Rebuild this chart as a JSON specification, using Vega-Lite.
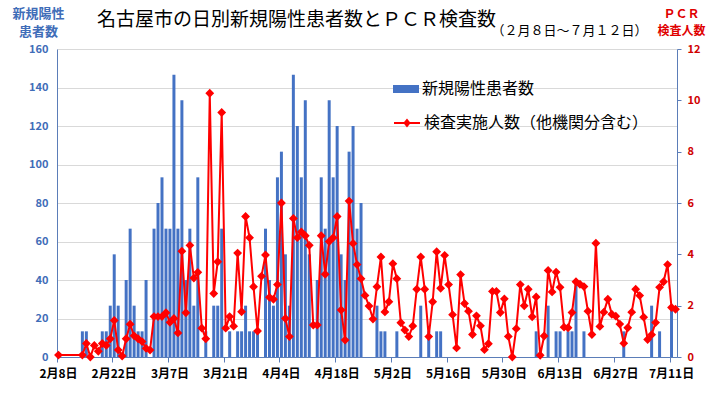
{
  "$schema": "https://vega.github.io/schema/vega-lite/v6.json",
  "width": 620,
  "height": 308,
  "autosize": {"type": "none"},
  "padding": {"left": 57, "top": 49, "right": 42, "bottom": 39},
  "background": "white",
  "title": {"text": "名古屋市の日別新規陽性患者数とＰＣＲ検査数", "anchor": "start", "frame": "group", "dx": 40, "dy": 27, "fontSize": 19, "fontWeight": "normal", "font": "Noto Sans CJK JP", "color": "black"},
  "data": {"values": [
    {"date":"2020-02-08","cases":0,"pcr":1},
    {"date":"2020-02-09","cases":0,"pcr":null},
    {"date":"2020-02-10","cases":0,"pcr":null},
    {"date":"2020-02-11","cases":0,"pcr":null},
    {"date":"2020-02-12","cases":0,"pcr":null},
    {"date":"2020-02-13","cases":0,"pcr":null},
    {"date":"2020-02-14","cases":1,"pcr":1},
    {"date":"2020-02-15","cases":1,"pcr":7},
    {"date":"2020-02-16","cases":0,"pcr":0},
    {"date":"2020-02-17","cases":0,"pcr":6},
    {"date":"2020-02-18","cases":0,"pcr":3},
    {"date":"2020-02-19","cases":1,"pcr":7},
    {"date":"2020-02-20","cases":1,"pcr":6},
    {"date":"2020-02-21","cases":2,"pcr":9.5},
    {"date":"2020-02-22","cases":4,"pcr":19},
    {"date":"2020-02-23","cases":2,"pcr":3.7},
    {"date":"2020-02-24","cases":0,"pcr":0.5},
    {"date":"2020-02-25","cases":3,"pcr":9.5},
    {"date":"2020-02-26","cases":5,"pcr":17},
    {"date":"2020-02-27","cases":2,"pcr":11},
    {"date":"2020-02-28","cases":1,"pcr":9.5},
    {"date":"2020-02-29","cases":1,"pcr":8},
    {"date":"2020-03-01","cases":3,"pcr":4.5},
    {"date":"2020-03-02","cases":0,"pcr":3.6},
    {"date":"2020-03-03","cases":5,"pcr":21},
    {"date":"2020-03-04","cases":6,"pcr":21},
    {"date":"2020-03-05","cases":7,"pcr":21},
    {"date":"2020-03-06","cases":5,"pcr":23},
    {"date":"2020-03-07","cases":5,"pcr":18},
    {"date":"2020-03-08","cases":11,"pcr":20},
    {"date":"2020-03-09","cases":5,"pcr":12.5},
    {"date":"2020-03-10","cases":10,"pcr":55},
    {"date":"2020-03-11","cases":3,"pcr":23},
    {"date":"2020-03-12","cases":5,"pcr":58},
    {"date":"2020-03-13","cases":2,"pcr":41},
    {"date":"2020-03-14","cases":7,"pcr":44},
    {"date":"2020-03-15","cases":0,"pcr":15},
    {"date":"2020-03-16","cases":1,"pcr":9.5},
    {"date":"2020-03-17","cases":0,"pcr":137},
    {"date":"2020-03-18","cases":2,"pcr":33},
    {"date":"2020-03-19","cases":2,"pcr":49.5},
    {"date":"2020-03-20","cases":5,"pcr":127},
    {"date":"2020-03-21","cases":0,"pcr":15},
    {"date":"2020-03-22","cases":1,"pcr":21},
    {"date":"2020-03-23","cases":0,"pcr":16},
    {"date":"2020-03-24","cases":1,"pcr":54},
    {"date":"2020-03-25","cases":1,"pcr":23.5},
    {"date":"2020-03-26","cases":2,"pcr":73},
    {"date":"2020-03-27","cases":1,"pcr":62},
    {"date":"2020-03-28","cases":1,"pcr":36.5},
    {"date":"2020-03-29","cases":1,"pcr":13.5},
    {"date":"2020-03-30","cases":0,"pcr":42},
    {"date":"2020-03-31","cases":5,"pcr":53},
    {"date":"2020-04-01","cases":3,"pcr":31},
    {"date":"2020-04-02","cases":2,"pcr":30},
    {"date":"2020-04-03","cases":7,"pcr":37.6},
    {"date":"2020-04-04","cases":8,"pcr":80},
    {"date":"2020-04-05","cases":4,"pcr":20},
    {"date":"2020-04-06","cases":2,"pcr":10.6},
    {"date":"2020-04-07","cases":11,"pcr":72},
    {"date":"2020-04-08","cases":9,"pcr":62},
    {"date":"2020-04-09","cases":7,"pcr":65},
    {"date":"2020-04-10","cases":10,"pcr":63},
    {"date":"2020-04-11","cases":4,"pcr":58},
    {"date":"2020-04-12","cases":0,"pcr":16.6},
    {"date":"2020-04-13","cases":3,"pcr":16.6},
    {"date":"2020-04-14","cases":7,"pcr":63},
    {"date":"2020-04-15","cases":5,"pcr":43},
    {"date":"2020-04-16","cases":10,"pcr":60},
    {"date":"2020-04-17","cases":7,"pcr":62},
    {"date":"2020-04-18","cases":9,"pcr":73},
    {"date":"2020-04-19","cases":4,"pcr":24.4},
    {"date":"2020-04-20","cases":3,"pcr":8.8},
    {"date":"2020-04-21","cases":8,"pcr":81},
    {"date":"2020-04-22","cases":9,"pcr":59},
    {"date":"2020-04-23","cases":5,"pcr":48},
    {"date":"2020-04-24","cases":6,"pcr":40.7},
    {"date":"2020-04-25","cases":0,"pcr":32},
    {"date":"2020-04-26","cases":0,"pcr":26.5},
    {"date":"2020-04-27","cases":0,"pcr":19.7},
    {"date":"2020-04-28","cases":2,"pcr":36.5},
    {"date":"2020-04-29","cases":1,"pcr":52},
    {"date":"2020-04-30","cases":1,"pcr":23.4},
    {"date":"2020-05-01","cases":0,"pcr":28.7},
    {"date":"2020-05-02","cases":0,"pcr":48.5},
    {"date":"2020-05-03","cases":1,"pcr":40.7},
    {"date":"2020-05-04","cases":0,"pcr":17.8},
    {"date":"2020-05-05","cases":0,"pcr":14},
    {"date":"2020-05-06","cases":0,"pcr":10.6},
    {"date":"2020-05-07","cases":0,"pcr":16.1},
    {"date":"2020-05-08","cases":0,"pcr":35.2},
    {"date":"2020-05-09","cases":2,"pcr":52},
    {"date":"2020-05-10","cases":0,"pcr":35.2},
    {"date":"2020-05-11","cases":1,"pcr":10.6},
    {"date":"2020-05-12","cases":0,"pcr":28.7},
    {"date":"2020-05-13","cases":1,"pcr":54.7},
    {"date":"2020-05-14","cases":1,"pcr":35.7},
    {"date":"2020-05-15","cases":0,"pcr":52.8},
    {"date":"2020-05-16","cases":0,"pcr":37.6},
    {"date":"2020-05-17","cases":0,"pcr":22},
    {"date":"2020-05-18","cases":0,"pcr":4.7},
    {"date":"2020-05-19","cases":0,"pcr":42.8},
    {"date":"2020-05-20","cases":0,"pcr":27.8},
    {"date":"2020-05-21","cases":0,"pcr":23.8},
    {"date":"2020-05-22","cases":0,"pcr":11.7},
    {"date":"2020-05-23","cases":0,"pcr":21.4},
    {"date":"2020-05-24","cases":0,"pcr":16.2},
    {"date":"2020-05-25","cases":0,"pcr":3.8},
    {"date":"2020-05-26","cases":0,"pcr":6.9},
    {"date":"2020-05-27","cases":0,"pcr":34.1},
    {"date":"2020-05-28","cases":0,"pcr":34.1},
    {"date":"2020-05-29","cases":0,"pcr":23.1},
    {"date":"2020-05-30","cases":0,"pcr":30.2},
    {"date":"2020-05-31","cases":0,"pcr":10.7},
    {"date":"2020-06-01","cases":0,"pcr":0},
    {"date":"2020-06-02","cases":0,"pcr":14.7},
    {"date":"2020-06-03","cases":0,"pcr":37.6},
    {"date":"2020-06-04","cases":0,"pcr":26.6},
    {"date":"2020-06-05","cases":0,"pcr":35.2},
    {"date":"2020-06-06","cases":0,"pcr":20.9},
    {"date":"2020-06-07","cases":1,"pcr":31.2},
    {"date":"2020-06-08","cases":0,"pcr":0.9},
    {"date":"2020-06-09","cases":0,"pcr":10.9},
    {"date":"2020-06-10","cases":2,"pcr":45},
    {"date":"2020-06-11","cases":0,"pcr":33.8},
    {"date":"2020-06-12","cases":1,"pcr":44.1},
    {"date":"2020-06-13","cases":1,"pcr":36.2},
    {"date":"2020-06-14","cases":0,"pcr":15.5},
    {"date":"2020-06-15","cases":1,"pcr":15.2},
    {"date":"2020-06-16","cases":1,"pcr":23.1},
    {"date":"2020-06-17","cases":3,"pcr":39.1},
    {"date":"2020-06-18","cases":0,"pcr":37.8},
    {"date":"2020-06-19","cases":1,"pcr":36.6},
    {"date":"2020-06-20","cases":0,"pcr":23.8},
    {"date":"2020-06-21","cases":0,"pcr":11.7},
    {"date":"2020-06-22","cases":0,"pcr":59.1},
    {"date":"2020-06-23","cases":0,"pcr":15.9},
    {"date":"2020-06-24","cases":0,"pcr":23.3},
    {"date":"2020-06-25","cases":0,"pcr":30},
    {"date":"2020-06-26","cases":0,"pcr":22.2},
    {"date":"2020-06-27","cases":0,"pcr":21.2},
    {"date":"2020-06-28","cases":0,"pcr":17.1},
    {"date":"2020-06-29","cases":1,"pcr":7.1},
    {"date":"2020-06-30","cases":0,"pcr":15.2},
    {"date":"2020-07-01","cases":0,"pcr":23.3},
    {"date":"2020-07-02","cases":0,"pcr":35.2},
    {"date":"2020-07-03","cases":0,"pcr":31.9},
    {"date":"2020-07-04","cases":0,"pcr":20.7},
    {"date":"2020-07-05","cases":0,"pcr":9.1},
    {"date":"2020-07-06","cases":2,"pcr":11.6},
    {"date":"2020-07-07","cases":0,"pcr":17.9},
    {"date":"2020-07-08","cases":1,"pcr":36.2},
    {"date":"2020-07-09","cases":0,"pcr":39.1},
    {"date":"2020-07-10","cases":0,"pcr":48},
    {"date":"2020-07-11","cases":2,"pcr":25.7},
    {"date":"2020-07-12","cases":0,"pcr":24.8}
  ]},
  "encoding": {
    "x": {"field": "date", "type": "ordinal", "sort": "ascending",
      "scale": {"paddingInner": 0.25, "paddingOuter": 0},
      "axis": {"values": ["2020-02-08","2020-02-22","2020-03-07","2020-03-21","2020-04-04","2020-04-18","2020-05-02","2020-05-16","2020-05-30","2020-06-13","2020-06-27","2020-07-11"],
        "labelExpr": "utcFormat(toDate(datum.value), '%-m月%-d日')",
        "bandPosition": 0, "labelAngle": 0, "labelOverlap": false, "labelBound": false,
        "labelFont": "Noto Sans CJK JP", "labelFontSize": 12, "labelFontWeight": "bold", "labelColor": "black", "labelPadding": 6,
        "tickSize": 5, "tickColor": "#5B7DB8", "domainColor": "#5B7DB8", "grid": false,
        "title": "（２月８日～７月１２日）", "titleX": 434, "titleY": -333, "titleAlign": "left", "titleBaseline": "top", "titleAnchor": null,
        "titleFont": "Noto Sans CJK JP", "titleFontSize": 13, "titleFontWeight": "normal", "titleColor": "black"}}
  },
  "layer": [
    {
      "mark": {"type": "bar", "color": "#4472C4"},
      "encoding": {
        "y": {"field": "cases", "type": "quantitative", "scale": {"domain": [0, 12]},
          "axis": {"orient": "right", "values": [0,2,4,6,8,10,12], "grid": false,
            "domainColor": "#5B7DB8", "tickColor": "#5B7DB8", "tickSize": 4,
            "labelColor": "#D00000", "labelFont": "Noto Sans CJK JP", "labelFontWeight": "bold", "labelFontSize": 11, "labelPadding": 6,
            "title": ["ＰＣＲ", "検査人数"], "titleAngle": 0, "titleX": 4, "titleY": -41, "titleAlign": "center", "titleBaseline": "top", "titleAnchor": null,
            "titleFont": "Noto Sans CJK JP", "titleFontSize": 12, "titleFontWeight": "bold", "titleColor": "#E00000", "titleLineHeight": 17}},
        "fill": {"datum": "新規陽性患者数", "scale": {"range": ["#4472C4"]},
          "legend": {"orient": "none", "legendX": 336, "legendY": 27, "title": null, "padding": 0,
            "symbolType": "M-1,-0.31H1V0.31H-1Z", "symbolSize": 676, "symbolStrokeWidth": 0,
            "labelFont": "Noto Sans CJK JP", "labelFontSize": 16, "labelColor": "black", "labelOffset": 3, "labelLimit": 400}}
      }
    },
    {
      "transform": [{"filter": "isValid(datum.pcr)"}],
      "mark": {"type": "line", "color": "#FF0000", "strokeWidth": 2,
        "point": {"filled": true, "shape": "diamond", "size": 36, "color": "#FF0000"}},
      "encoding": {
        "y": {"field": "pcr", "type": "quantitative", "scale": {"domain": [0, 160]},
          "axis": {"orient": "left", "values": [0,20,40,60,80,100,120,140,160], "grid": true, "gridColor": "#D9D9D9",
            "domainColor": "#5B7DB8", "ticks": false,
            "labelColor": "#3F6DB8", "labelFont": "Noto Sans CJK JP", "labelFontWeight": "bold", "labelFontSize": 11, "labelPadding": 9,
            "title": ["新規陽性", "患者数"], "titleAngle": 0, "titleX": -19, "titleY": -42, "titleAlign": "center", "titleBaseline": "top", "titleAnchor": null,
            "titleFont": "Noto Sans CJK JP", "titleFontSize": 13, "titleFontWeight": "bold", "titleColor": "#3F6DB8", "titleLineHeight": 18}},
        "stroke": {"datum": "検査実施人数（他機関分含む）", "scale": {"range": ["#FF0000"]},
          "legend": {"orient": "none", "legendX": 336, "legendY": 60, "title": null, "padding": 0,
            "symbolType": "M-1,0H1M-0.18,0L0,-0.22L0.18,0L0,0.22Z", "symbolSize": 676, "symbolStrokeWidth": 2, "symbolFillColor": "#FF0000",
            "labelFont": "Noto Sans CJK JP", "labelFontSize": 16, "labelColor": "black", "labelOffset": 3, "labelLimit": 400}}
      }
    }
  ],
  "resolve": {"scale": {"y": "independent"}},
  "config": {"view": {"stroke": null}, "font": "Noto Sans CJK JP"}
}
